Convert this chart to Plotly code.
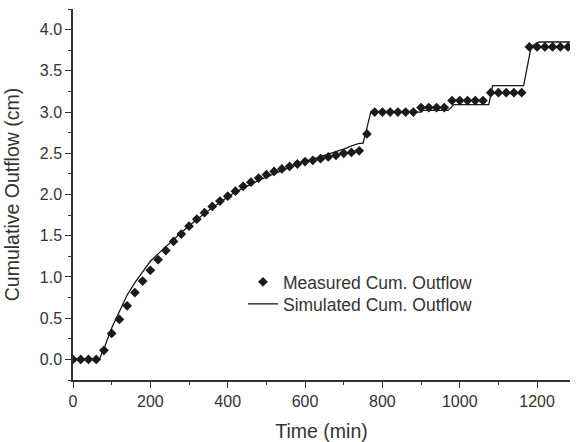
import plotly.graph_objects as go

# Measured cumulative outflow (every 20 min)
meas_time = [0, 20, 40, 60, 80, 100, 120, 140, 160, 180, 200, 220, 240, 260, 280, 300,
             320, 340, 360, 380, 400, 420, 440, 460, 480, 500, 520, 540, 560, 580, 600,
             620, 640, 660, 680, 700, 720, 740, 760, 780, 800, 820, 840, 860, 880, 900,
             920, 940, 960, 980, 1000, 1020, 1040, 1060, 1080, 1100, 1120, 1140, 1160,
             1180, 1200, 1220, 1240, 1260, 1280]
meas_val = [0.0, 0.0, 0.0, 0.0, 0.11, 0.315, 0.485, 0.65, 0.81, 0.95, 1.08, 1.21, 1.32,
            1.43, 1.52, 1.615, 1.70, 1.78, 1.855, 1.92, 1.98, 2.04, 2.10, 2.15, 2.20,
            2.24, 2.28, 2.31, 2.34, 2.37, 2.40, 2.415, 2.435, 2.455, 2.475, 2.50, 2.51,
            2.53, 2.735, 3.0, 3.0, 3.0, 3.0, 3.0, 3.0, 3.055, 3.055, 3.055, 3.055, 3.14,
            3.14, 3.14, 3.14, 3.14, 3.235, 3.235, 3.235, 3.235, 3.235, 3.79, 3.79, 3.79,
            3.79, 3.79, 3.79]

# Simulated cumulative outflow
sim_time = [0, 20, 40, 60, 68, 80, 100, 120, 140, 160, 180, 200, 220, 240, 260, 280, 300,
            320, 340, 360, 380, 400, 420, 440, 460, 480, 500, 520, 540, 560, 580, 600,
            620, 640, 660, 680, 700, 720, 740, 750, 770, 900, 905, 970, 985, 1075, 1085,
            1165, 1185, 1205, 1285]
sim_val = [0.0, 0.0, 0.0, 0.0, 0.0, 0.13, 0.38, 0.58, 0.78, 0.93, 1.06, 1.19, 1.28, 1.37,
           1.45, 1.54, 1.62, 1.70, 1.77, 1.84, 1.91, 1.97, 2.03, 2.08, 2.13, 2.17, 2.21,
           2.25, 2.29, 2.33, 2.37, 2.40, 2.43, 2.46, 2.49, 2.52, 2.55, 2.59, 2.62, 2.62,
           3.00, 3.00, 3.02, 3.02, 3.09, 3.09, 3.32, 3.32, 3.80, 3.85, 3.85]

x_ticks = [0, 200, 400, 600, 800, 1000, 1200]
y_ticks = [0.0, 0.5, 1.0, 1.5, 2.0, 2.5, 3.0, 3.5, 4.0]

txt = "#333333"
font = "Liberation Sans, Arial, sans-serif"

fig = go.Figure()
fig.add_trace(go.Scatter(x=meas_time, y=meas_val, mode="markers",
                         name="Measured Cum. Outflow", legend="legend",
                         marker=dict(symbol="diamond", size=7.5, color="#1a1a1a")))
fig.add_trace(go.Scatter(x=sim_time, y=sim_val, mode="lines",
                         name="Simulated Cum. Outflow", legend="legend2",
                         line=dict(color="#1a1a1a", width=1.3)))

leg_common = dict(xanchor="left", yanchor="top", bgcolor="rgba(0,0,0,0)",
                  font=dict(size=17.5, color=txt))

fig.update_layout(
    width=576, height=442,
    margin=dict(l=73, r=6, t=9, b=62),
    paper_bgcolor="white", plot_bgcolor="white",
    font=dict(family=font, color=txt, size=16),
    showlegend=True,
    legend=dict(x=0.342, y=0.3127, **leg_common),
    legend2=dict(x=0.342, y=0.2534, **leg_common),
    xaxis=dict(range=[0, 1285], tickvals=x_ticks, ticktext=[str(v) for v in x_ticks],
               automargin=False,
               showgrid=False, zeroline=False, showline=True, linecolor="#333333",
               linewidth=1.5, ticks="outside", ticklen=6, tickwidth=1.2,
               tickcolor="#333333",
               minor=dict(dtick=100, ticks="outside", ticklen=3, tickcolor="#333333",
                          showgrid=False),
               title=dict(text="Time (min)", font=dict(size=19.5)),
               tickfont=dict(size=16)),
    yaxis=dict(range=[-0.25, 4.25], tickvals=y_ticks,
               ticktext=[f"{v:.1f}" for v in y_ticks],
               automargin=False,
               showgrid=False, zeroline=False, showline=True, linecolor="#333333",
               linewidth=1.5, ticks="outside", ticklen=6, tickwidth=1.2,
               tickcolor="#333333",
               minor=dict(dtick=0.25, tick0=0, ticks="outside", ticklen=3,
                          tickcolor="#333333", showgrid=False),
               title=dict(text="Cumulative Outflow (cm)", font=dict(size=19.5)),
               tickfont=dict(size=16)),
)

fig.write_html("out.html",
               config={"displayModeBar": False},
               post_script="document.body.style.margin='0';document.body.style.overflow='hidden';")
